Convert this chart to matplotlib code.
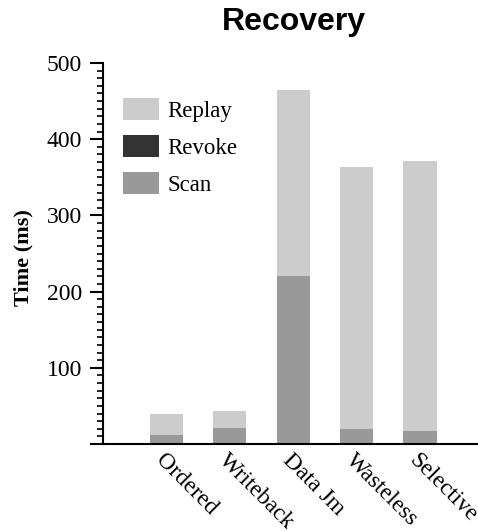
import matplotlib
matplotlib.use("Agg")
import matplotlib.pyplot as plt
from matplotlib.ticker import MultipleLocator, FixedLocator, FixedFormatter
import numpy as np

categories = ["Ordered", "Writeback", "Data Jm", "Wasteless", "Selective"]
scan = [12, 21, 220, 20, 17]
revoke = [0, 0, 0, 0, 0]
replay = [28, 22, 245, 343, 355]
ytick_values = [0, 100, 200, 300, 400, 500]
ytick_labels = ["", "100", "200", "300", "400", "500"]

colors = {"Replay": "#cccccc", "Revoke": "#333333", "Scan": "#999999"}

serif = ["Liberation Serif", "DejaVu Serif"]
sans = ["Liberation Sans", "DejaVu Sans"]

fig = plt.figure(figsize=(4.78, 5.31), dpi=100)
ax = fig.add_axes([103/478, 1-444/531, (477-103)/478, (444-63)/531])

x = np.arange(len(categories))
w = 0.525
scan_a = np.array(scan, float)
rev_a = np.array(revoke, float)
rep_a = np.array(replay, float)
b1 = ax.bar(x, scan_a, w, color=colors["Scan"], label="Scan", linewidth=0)
b2 = ax.bar(x, rev_a, w, bottom=scan_a, color=colors["Revoke"], label="Revoke", linewidth=0)
b3 = ax.bar(x, rep_a, w, bottom=scan_a + rev_a, color=colors["Replay"], label="Replay", linewidth=0)

ax.set_xlim(-1.0, 4.9)
ax.set_ylim(0, 500)

for s in ["top", "right"]:
    ax.spines[s].set_visible(False)
for s in ["left", "bottom"]:
    ax.spines[s].set_linewidth(1.5)

ax.yaxis.set_major_locator(FixedLocator(ytick_values))
ax.yaxis.set_major_formatter(FixedFormatter(ytick_labels))
ax.yaxis.set_minor_locator(MultipleLocator(10))
ax.tick_params(axis="y", which="major", length=9.5, width=1.5, pad=5.5, direction="out")
ax.tick_params(axis="y", which="minor", length=4.5, width=1.2, direction="out")
for lab in ax.get_yticklabels():
    lab.set_fontfamily(serif)
    lab.set_fontsize(17)

ax.set_xticks(x)
ax.set_xticklabels(categories, rotation=-45, ha="left", va="top",
                   rotation_mode="anchor", fontfamily=serif, fontsize=17)
ax.tick_params(axis="x", length=0, pad=4)

ax.set_ylabel("Time (ms)", fontfamily=serif, fontsize=16, fontweight="bold")
ax.yaxis.set_label_coords(-0.185, 0.49)

ax.set_title("Recovery", fontfamily=sans, fontsize=23, fontweight="bold", pad=24, x=0.51)

leg = ax.legend([b3, b2, b1], ["Replay", "Revoke", "Scan"], loc="upper left",
                bbox_to_anchor=((123-103)/374, 1-(98-63)/381), frameon=False,
                borderpad=0, borderaxespad=0, handlelength=1.55, handleheight=1.1,
                labelspacing=0.58, handletextpad=0.4,
                prop={"family": serif, "size": 16.5})

fig.savefig("out.png", dpi=100)
